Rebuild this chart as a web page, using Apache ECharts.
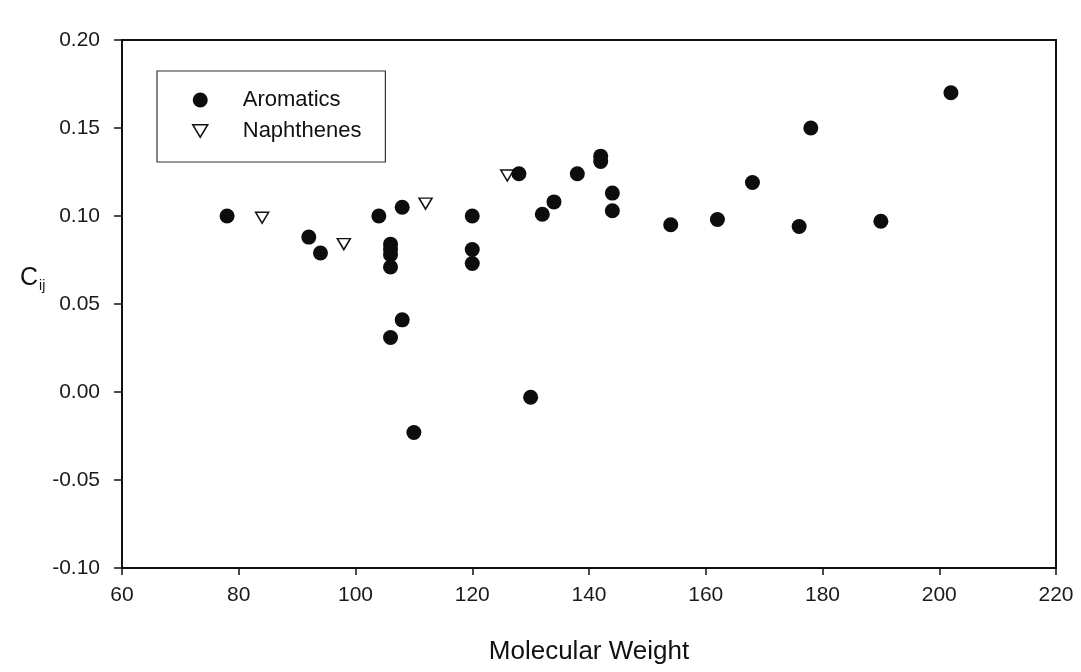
<!DOCTYPE html>
<html>
<head>
<meta charset="utf-8">
<style>
  html, body { margin: 0; padding: 0; background: #fff; }
  #chart { width: 1081px; height: 672px; }
</style>
<script src="https://cdn.jsdelivr.net/npm/echarts@6/dist/echarts.min.js"></script>
</head>
<body>
<div id="chart"></div>
<script>
// Interaction parameter C_ij versus molecular weight
const aromaticsMW = [78, 92, 94, 104, 106, 106, 106, 106, 106, 108, 108, 110,
  120, 120, 120, 128, 130, 132, 134, 138, 142, 142, 144, 144, 154, 162, 168, 176, 178, 190, 202];
const aromaticsC = [0.100, 0.088, 0.079, 0.100, 0.084, 0.081, 0.078, 0.071, 0.031, 0.105, 0.041, -0.023,
  0.100, 0.081, 0.073, 0.124, -0.003, 0.101, 0.108, 0.124, 0.134, 0.131, 0.113, 0.103, 0.095, 0.098, 0.119, 0.094, 0.150, 0.097, 0.170];
const naphthenesMW = [84, 98, 112, 126];
const naphthenesC = [0.099, 0.084, 0.107, 0.123];

const xTicks = [60, 80, 100, 120, 140, 160, 180, 200, 220];
const yTicks = [-0.10, -0.05, 0.00, 0.05, 0.10, 0.15, 0.20];

const pairs = (xs, ys) => xs.map((x, i) => [x, ys[i]]);
const font = 'Liberation Sans, Arial, sans-serif';
const downTriangle = 'path://M0,0 L12,0 L6,10 Z';

const chart = echarts.init(document.getElementById('chart'), null, { renderer: 'canvas' });
chart.setOption({
  backgroundColor: '#ffffff',
  animation: false,
  grid: {
    left: 122, right: 25, top: 40, bottom: 104,
    show: true, borderColor: '#111', borderWidth: 2, backgroundColor: 'transparent'
  },
  xAxis: {
    type: 'value',
    min: xTicks[0], max: xTicks[xTicks.length - 1], interval: 20,
    name: 'Molecular Weight',
    nameLocation: 'middle', nameGap: 71,
    nameTextStyle: { fontFamily: font, fontSize: 26, color: '#111' },
    axisLine: { show: true, onZero: false, lineStyle: { color: '#111', width: 2 } },
    axisTick: { show: true, inside: false, length: 7, lineStyle: { color: '#111', width: 1.5 } },
    axisLabel: { margin: 17, fontFamily: font, fontSize: 21, color: '#1a1a1a' },
    splitLine: { show: false }
  },
  yAxis: {
    type: 'value',
    min: yTicks[0], max: yTicks[yTicks.length - 1], interval: 0.05,
    axisLine: { show: true, onZero: false, lineStyle: { color: '#111', width: 2 } },
    axisTick: { show: true, inside: false, length: 8, lineStyle: { color: '#111', width: 1.5 } },
    axisLabel: {
      margin: 22, fontFamily: font, fontSize: 21, color: '#1a1a1a',
      formatter: v => v.toFixed(2)
    },
    splitLine: { show: false }
  },
  legend: {
    left: 157, top: 71,
    orient: 'vertical',
    padding: [18, 24, 20, 35],
    itemGap: 9,
    itemWidth: 15, itemHeight: 15,
    borderColor: '#333', borderWidth: 1.2,
    backgroundColor: '#fff',
    textStyle: { fontFamily: font, fontSize: 22, lineHeight: 22, color: '#111', padding: [0, 0, 0, 30] },
    data: [
      { name: 'Aromatics', icon: 'circle' },
      { name: 'Naphthenes', icon: downTriangle, itemStyle: { color: '#fff', borderColor: '#111', borderWidth: 1.5 } }
    ]
  },
  graphic: [{
    type: 'text', left: 20, top: 266,
    style: {
      text: '{c|C}{s|ij}',
      rich: {
        c: { fontFamily: font, fontSize: 25, fill: '#111' },
        s: { fontFamily: font, fontSize: 14, fill: '#111', padding: [16, 0, 0, 1] }
      }
    }
  }],
  series: [
    {
      name: 'Aromatics', type: 'scatter',
      symbol: 'circle', symbolSize: 15,
      itemStyle: { color: '#0d0d0d', opacity: 1 },
      data: pairs(aromaticsMW, aromaticsC)
    },
    {
      name: 'Naphthenes', type: 'scatter',
      symbol: downTriangle, symbolSize: [13, 11],
      itemStyle: { color: '#fff', borderColor: '#111', borderWidth: 1.5, opacity: 1 },
      data: pairs(naphthenesMW, naphthenesC),
      z: 1
    }
  ]
});
</script>
</body>
</html>
